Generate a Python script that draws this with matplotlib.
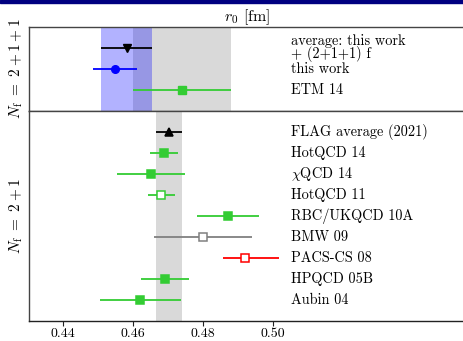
import numpy as np
import matplotlib
matplotlib.use('Agg')
import matplotlib.pyplot as plt
from matplotlib.patches import Rectangle

plt.rcParams['font.family'] = 'cmr10'
plt.rcParams['mathtext.fontset'] = 'cm'
plt.rcParams['axes.formatter.use_mathtext'] = True

# Nf = 2+1+1 panel
top_labels = ['average: this work\n+ (2+1+1) f', 'this work', 'ETM 14']
top_val = [0.4581, 0.4548, 0.4740]
top_err = [0.0073, 0.0064, 0.0140]
top_col = ['black', 'blue', '#33cc33']
top_mark = ['v', 'o', 's']

# Nf = 2+1 panel
bot_labels = ['FLAG average (2021)', 'HotQCD 14', r'$\chi$QCD 14', 'HotQCD 11',
              'RBC/UKQCD 10A', 'BMW 09', 'PACS-CS 08', 'HPQCD 05B', 'Aubin 04']
bot_val = [0.4701, 0.4688, 0.4651, 0.4680, 0.4870, 0.4799, 0.4919, 0.4690, 0.4620]
bot_lo = [0.0037, 0.0041, 0.0098, 0.0039, 0.0089, 0.0140, 0.0062, 0.0069, 0.0116]
bot_hi = [0.0037, 0.0041, 0.0097, 0.0039, 0.0089, 0.0141, 0.0098, 0.0069, 0.0116]
bot_col = ['black', '#33cc33', '#33cc33', '#33cc33', '#33cc33', 'gray', 'red', '#33cc33', '#33cc33']
bot_mark = ['^', 's', 's', 's', 's', 's', 's', 's', 's']
bot_open = [False, False, False, True, False, True, True, False, False]

avg_band = (0.4508, 0.4654)
etm_band = (0.4600, 0.4880)
flag_band = (0.4664, 0.4738)

fig = plt.figure(figsize=(4.63, 3.41), dpi=100)
ax1 = fig.add_axes([0.0626, 0.6754, 0.9424, 0.2455])
ax2 = fig.add_axes([0.0626, 0.0587, 0.9424, 0.6167])

xlim = (0.4302, 0.5549)
label_x = 0.505

for ax in (ax1, ax2):
    ax.set_xlim(*xlim)
    ax.set_yticks([])
    for s in ax.spines.values():
        s.set_color('#444444')
        s.set_linewidth(1.0)

# top panel
ax1.axvspan(*etm_band, color='#d9d9d9', lw=0, zorder=0)
ax1.axvspan(*avg_band, color='blue', alpha=0.3, lw=0, zorder=1)
n = len(top_val)
ys = np.arange(n, 0, -1)
for y, v, e, c, m, lab in zip(ys, top_val, top_err, top_col, top_mark, top_labels):
    ax1.errorbar(v, y, xerr=e, color=c, marker=m, ms=5.5, lw=1.3, capsize=0, zorder=3)
    ax1.text(label_x, y, lab, va='center', ha='left', fontsize=10.3, linespacing=0.85)
ax1.set_ylim(0, 4)
ax1.set_xticks([])
ax1.set_title(r'$r_0$ [fm]', fontsize=11.5, pad=3)
ax1.set_ylabel(r'$N_{\rm f}\ =\ 2+1+1$', fontsize=11, labelpad=3)

# bottom panel
ax2.axvspan(*flag_band, color='#d9d9d9', lw=0, zorder=0)
n = len(bot_val)
ys = np.arange(n, 0, -1)
for i in range(n):
    fc = 'white' if bot_open[i] else bot_col[i]
    ax2.errorbar(bot_val[i], ys[i], xerr=[[bot_lo[i]], [bot_hi[i]]], color=bot_col[i],
                 marker=bot_mark[i], ms=5.5, mfc=fc, mec=bot_col[i], mew=1.1,
                 lw=1.3, capsize=0, zorder=3)
    ax2.text(label_x, ys[i], bot_labels[i], va='center', ha='left', fontsize=10.3)
ax2.set_ylim(0, 10)
ax2.set_xticks([0.44, 0.46, 0.48, 0.50])
ax2.set_xticklabels(['0.44', '0.46', '0.48', '0.50'])
ax2.tick_params(axis='x', direction='out', length=3.5, pad=1.5, labelsize=10, color='#222222')
ax2.spines['bottom'].set_color('#222222')
ax2.set_ylabel(r'$N_{\rm f}\ =\ 2+1$', fontsize=11, labelpad=3)

# navy strip along the top edge
fig.patches.append(Rectangle((0, 1 - 2.5 / 341), 1, 2.5 / 341, color='#000080',
                             transform=fig.transFigure, figure=fig))

fig.savefig('out.png', dpi=100)
